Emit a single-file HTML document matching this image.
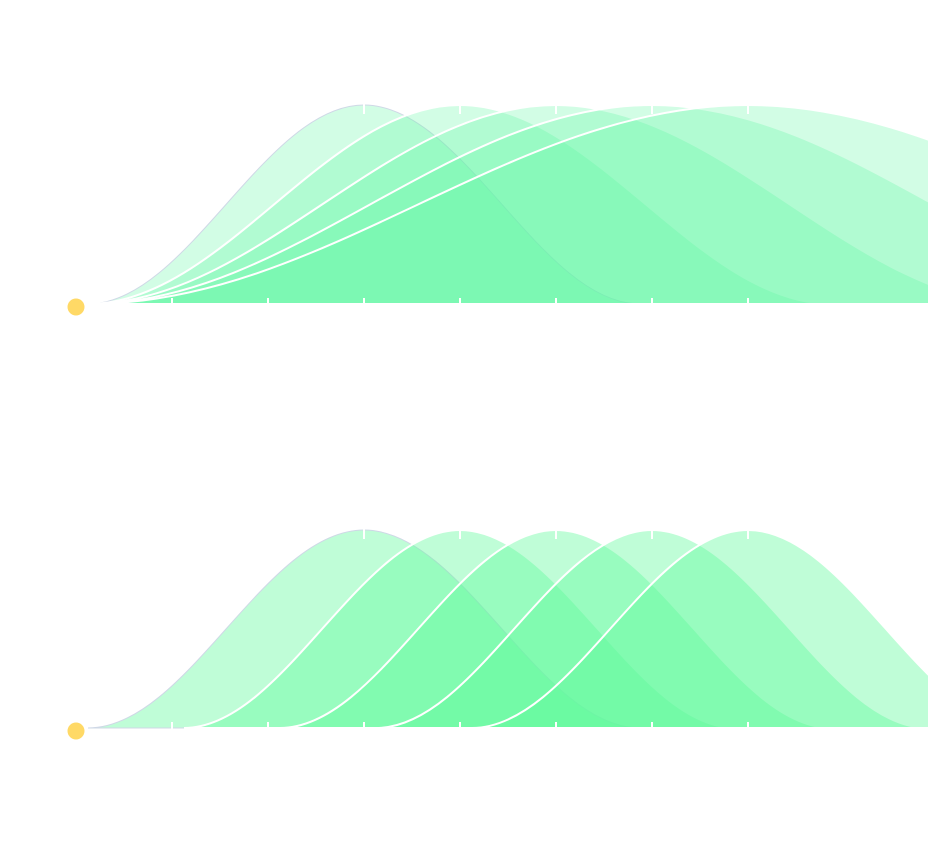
<!DOCTYPE html>
<html><head><meta charset="utf-8"><style>html,body{margin:0;padding:0;background:#fff}svg{display:block}</style></head>
<body>
<svg width="928" height="848" viewBox="0 0 928 848" xmlns="http://www.w3.org/2000/svg">
<g fill="#5ef9a0" fill-opacity="0.28" stroke="#ffffff" stroke-width="2">
<path d="M88,304 C187.4,304 264.6,105 364,105 C463.4,105 540.6,304 640,304 Z" stroke="#cfd8e6" stroke-width="1"/>
<path d="M88,304 C221.9,304 326.1,105 460,105 C593.9,105 698.1,304 832,304 Z"/>
<path d="M88,304 C256.5,304 387.5,105 556,105 C724.5,105 855.5,304 1024,304 Z"/>
<path d="M88,304 C291,304 449,105 652,105 C855,105 1013,304 1216,304 Z"/>
<path d="M88,304 C325.6,304 510.4,105 748,105 C985.6,105 1170.4,304 1408,304 Z"/>
</g>
<g fill="#5efb9c" fill-opacity="0.4" stroke="#ffffff" stroke-width="2">
<path d="M88,728 C187.4,728 264.6,530 364,530 C463.4,530 540.6,728 640,728 Z" stroke="#cfd8e6" stroke-width="1"/>
<path d="M184,728 C283.4,728 360.6,530 460,530 C559.4,530 636.6,728 736,728 Z"/>
<path d="M280,728 C379.4,728 456.6,530 556,530 C655.4,530 732.6,728 832,728 Z"/>
<path d="M376,728 C475.4,728 552.6,530 652,530 C751.4,530 828.6,728 928,728 Z"/>
<path d="M472,728 C571.4,728 648.6,530 748,530 C847.4,530 924.6,728 1024,728 Z"/>
</g>
<g stroke="#ffffff" stroke-width="2">
<path d="M172,298V305M268,298V305M364,298V305M460,298V305M556,298V305M652,298V305M748,298V305"/>
<path d="M364,104V114M460,104V114M556,104V114M652,104V114M748,104V114"/>
<path d="M172,722V729M268,722V729M364,722V729M460,722V729M556,722V729M652,722V729M748,722V729"/>
<path d="M364,529V539M460,529V539M556,529V539M652,529V539M748,529V539"/>
</g>
<circle cx="76" cy="307" r="8.5" fill="#ffd966"/>
<circle cx="76" cy="731" r="8.5" fill="#ffd966"/>
</svg>
</body></html>
